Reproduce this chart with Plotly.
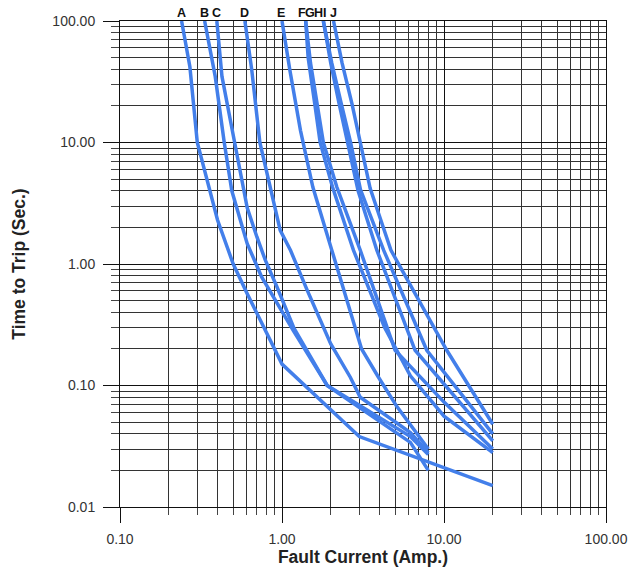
import math
import plotly.graph_objects as go

# ---- data ----
curve_names = ["A", "B", "C", "D", "E", "F", "G", "H", "I", "J"]

a_x = [0.24, 0.27, 0.30, 0.40, 0.50, 0.61, 1.0, 3.0, 20]
a_y = [100, 42, 10, 2.3, 1.0, 0.57, 0.15, 0.038, 0.015]

b_x = [0.333, 0.387, 0.44, 0.49, 0.61, 0.75, 1.18, 1.9, 6.2, 8]
b_y = [100, 35, 10, 4.0, 1.47, 0.78, 0.28, 0.10, 0.034, 0.020]

c_x = [0.396, 0.426, 0.51, 0.61, 0.70, 0.79, 0.93, 1.18, 1.9, 6.2, 8]
c_y = [100, 35, 10, 2.9, 1.67, 1.07, 0.65, 0.30, 0.10, 0.038, 0.027]

d_x = [0.59, 0.65, 0.73, 0.85, 0.975, 1.13, 1.43, 2.0, 2.64, 3.04, 4.2, 6.2, 8]
d_y = [100, 40, 10, 4.0, 1.89, 1.29, 0.61, 0.22, 0.117, 0.08, 0.059, 0.041, 0.028]

e_x = [1.0, 1.12, 1.3, 1.55, 2.03, 3.1, 3.94, 5.12, 8]
e_y = [100, 39, 12.6, 4.3, 1.3, 0.20, 0.117, 0.067, 0.030]

f_x = [1.4, 1.45, 1.6, 1.72, 2.05, 2.76, 4.3, 6.2, 10, 20]
f_y = [100, 50, 20, 10, 4.3, 1.3, 0.30, 0.12, 0.056, 0.028]

g_x = [1.4, 1.5, 1.8, 2.18, 3.04, 4.99, 10, 20]
g_y = [100, 45, 10, 4.3, 1.3, 0.195, 0.073, 0.030]

h_x = [1.8, 2.0, 2.25, 2.55, 2.95, 3.85, 6.63, 20]
h_y = [100, 45, 21, 10, 4.0, 1.3, 0.195, 0.035]

i_x = [1.8, 2.03, 2.32, 2.65, 3.05, 4.24, 7.83, 20]
i_y = [100, 45, 21, 10, 4.1, 1.3, 0.195, 0.040]

j_x = [2.08, 2.35, 2.7, 3.04, 3.5, 4.7, 10.4, 20]
j_y = [100, 45, 21, 10, 4.2, 1.3, 0.195, 0.048]

label_x = [0.24, 0.333, 0.396, 0.59, 0.98, 1.33, 1.48, 1.67, 1.82, 2.08]

x_tickvals = [0.1, 1, 10, 100]
x_ticktext = ["0.10", "1.00", "10.00", "100.00"]
y_tickvals = [0.01, 0.1, 1, 10, 100]
y_ticktext = ["0.01", "0.10", "1.00", "10.00", "100.00"]

x_title = "Fault Current (Amp.)"
y_title = "Time to Trip (Sec.)"

# ---- figure ----
xs = [a_x, b_x, c_x, d_x, e_x, f_x, g_x, h_x, i_x, j_x]
ys = [a_y, b_y, c_y, d_y, e_y, f_y, g_y, h_y, i_y, j_y]

BLUE = "#437FEA"
fig = go.Figure()
for name, cx, cy in zip(curve_names, xs, ys):
    fig.add_trace(go.Scatter(x=cx, y=cy, mode="lines", name=name,
                             line=dict(color=BLUE, width=3.5),
                             showlegend=False, hoverinfo="name+x+y"))

def minor_vals(lo_exp, hi_exp):
    return [k * 10 ** e for e in range(lo_exp, hi_exp) for k in range(2, 10)]

for name, lx in zip(curve_names, label_x):
    fig.add_annotation(x=math.log10(lx), y=1.0, xref="x", yref="paper",
                       text=f"<b>{name}</b>", showarrow=False, yanchor="bottom",
                       yshift=-1, font=dict(family="Liberation Sans, Arial", size=12.5, color="#111"))

tickfont = dict(family="Liberation Sans, Arial", size=14, color="#333")
titlefont = dict(family="Liberation Sans, Arial", size=17.5, color="#222")

fig.update_xaxes(type="log", range=[-1, 2], tickvals=x_tickvals, ticktext=x_ticktext,
                 ticks="outside", ticklen=15, tickcolor="#111", tickwidth=1,
                 showgrid=True, gridcolor="#111", gridwidth=1,
                 showline=True, linecolor="#111", linewidth=1, mirror=True,
                 tickfont=tickfont, ticklabelstandoff=4, automargin=False,
                 title=dict(text=f"<b>{x_title}</b>", font=titlefont, standoff=0),
                 minor=dict(tickvals=minor_vals(-1, 2), ticks="outside", ticklen=7,
                            tickcolor="#444", showgrid=True, gridcolor="#333", gridwidth=1),
                 zeroline=False)
fig.update_yaxes(type="log", range=[-2, 2], tickvals=y_tickvals, ticktext=y_ticktext,
                 ticks="outside", ticklen=16, tickcolor="#111", tickwidth=1,
                 showgrid=True, gridcolor="#111", gridwidth=1,
                 showline=True, linecolor="#111", linewidth=1, mirror=True,
                 tickfont=tickfont, ticklabelstandoff=5, automargin=False,
                 title=dict(text=f"<b>{y_title}</b>", font=titlefont, standoff=22),
                 minor=dict(tickvals=minor_vals(-2, 2), ticks="outside", ticklen=8,
                            tickcolor="#444", showgrid=True, gridcolor="#333", gridwidth=1),
                 zeroline=False)

fig.update_layout(width=631, height=571, margin=dict(l=120, r=25, t=21, b=64),
                  plot_bgcolor="white", paper_bgcolor="white")

# remove the page's default 8 px body margin so the figure fills the window exactly
fig.write_html("out.html", config={"displayModeBar": False},
               post_script="document.body.style.margin='0';document.body.style.overflow='hidden';")
